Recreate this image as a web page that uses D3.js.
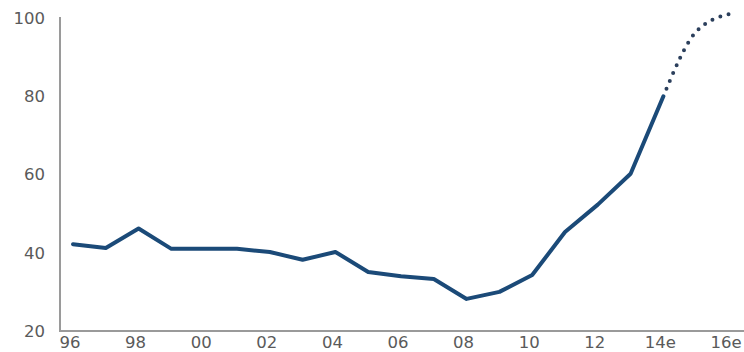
<!DOCTYPE html>
<html>
<head>
<meta charset="utf-8">
<script src="https://cdn.jsdelivr.net/npm/d3@7"></script>
<style>
body{margin:0;background:#fff;}
svg{display:block;}
text{font-family:"DejaVu Sans",sans-serif;fill:#5a5a5a;}
</style>
</head>
<body>
<div id="chart"></div>
<script>
// values
var years = [1996,1997,1998,1999,2000,2001,2002,2003,2004,2005,2006,2007,2008,2009,2010,2011,2012,2013,2014];
var values = [42.2,41.2,46.2,41,41,41,40.2,38.2,40.2,35.1,34,33.3,28.2,30,34.3,45.3,52.3,60.2,80];
var estYears = [2014,2015,2016];
var estValues = [80,96.5,101];
var tickYears = [1996,1998,2000,2002,2004,2006,2008,2010,2012,2014,2016];
var tickLabels = ["96","98","00","02","04","06","08","10","12","14e","16e"];
var yTicks = [20,40,60,80,100];

var W = 744, H = 352;
var svg = d3.select("#chart").append("svg").attr("width",W).attr("height",H);

var x = d3.scaleLinear().domain([1996,2016]).range([73,729]);
var y = d3.scaleLinear().domain([20,100]).range([331,18]);

// axis lines
svg.append("line").attr("x1",60).attr("x2",60).attr("y1",17).attr("y2",331)
	.attr("stroke","#9a9a9a").attr("stroke-width",2);
svg.append("line").attr("x1",59).attr("x2",744).attr("y1",331).attr("y2",331)
	.attr("stroke","#9a9a9a").attr("stroke-width",2);

// y labels
svg.selectAll("text.yl").data(yTicks).enter().append("text").attr("class","yl")
	.attr("x",45).attr("y",function(d){return y(d)})
	.attr("dy","0.36em").attr("text-anchor","end")
	.style("font-size","16.5px")
	.text(function(d){return d});

// x labels
svg.selectAll("text.xl").data(tickYears).enter().append("text").attr("class","xl")
	.attr("x",function(d){return x(d)-3}).attr("y",348)
	.attr("text-anchor","middle")
	.style("font-size","16.5px")
	.text(function(d,i){return tickLabels[i]});

var line = d3.line().x(function(d){return x(d[0])}).y(function(d){return y(d[1])});

svg.append("path").datum(d3.zip(years,values))
	.attr("d",line).attr("fill","none")
	.attr("stroke","#1b4a78").attr("stroke-width",4)
	.attr("stroke-linejoin","round").attr("stroke-linecap","round");

var curve = d3.line().curve(d3.curveMonotoneX)
	.x(function(d){return x(d[0])}).y(function(d){return y(d[1])});
svg.append("path").datum(d3.zip(estYears,estValues))
	.attr("d",curve).attr("fill","none")
	.attr("stroke","#2b3f5c").attr("stroke-width",4)
	.attr("stroke-dasharray","0,8.5").attr("stroke-dashoffset",-8)
	.attr("stroke-linecap","round");
</script>
</body>
</html>
